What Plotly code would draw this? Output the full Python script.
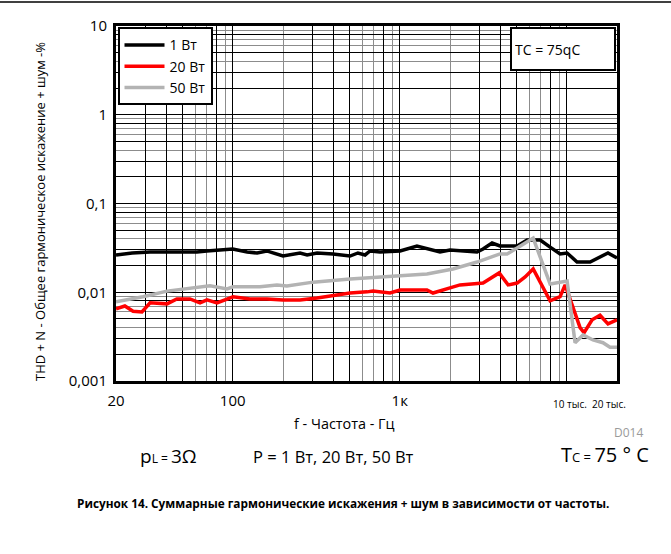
import plotly.graph_objects as go
import numpy as np

# THD+N vs frequency, three output power levels
freq_1w = [20, 25, 32, 40, 61, 70, 84, 100, 122, 140, 160, 200, 253, 279, 320, 398,
           504, 562, 620, 664, 762, 1005, 1268, 1742, 2000, 2904, 3155, 3573, 3984,
           5047, 5796, 6937, 7950, 9124, 10050, 11530, 13800, 15820, 17660, 20000]
thd_1w = [0.0263, 0.0277, 0.0284, 0.0284, 0.0284, 0.0292, 0.0299, 0.0307, 0.0284,
          0.0277, 0.0292, 0.0256, 0.0277, 0.0263, 0.0277, 0.0270, 0.0256, 0.0277,
          0.0263, 0.0292, 0.0284, 0.0292, 0.0332, 0.0284, 0.0299, 0.0284, 0.0307,
          0.0359, 0.0332, 0.0332, 0.0388, 0.0388, 0.0323, 0.0270, 0.0277, 0.0219,
          0.0219, 0.0249, 0.0277, 0.0243]

freq_20w = [20, 22.6, 25.3, 28.6, 32, 40.4, 46.3, 55.4, 63.7, 70.1, 80.5, 100.5, 126.8,
            160.3, 200, 253, 320, 398, 504, 637, 692, 875, 1005, 1456, 1582, 2000, 2296,
            3155, 3938, 4455, 5047, 5635, 6297, 7950, 9124, 9780, 12020, 12700, 14190,
            15820, 17660, 20000]
thd_20w = [0.0065, 0.0070, 0.0061, 0.0060, 0.0076, 0.0074, 0.0084, 0.0084, 0.0076,
           0.0082, 0.0076, 0.0089, 0.0084, 0.0084, 0.0082, 0.0082, 0.0086, 0.0091,
           0.0098, 0.0101, 0.0103, 0.0098, 0.0106, 0.0106, 0.0098, 0.0112, 0.0121,
           0.0127, 0.0165, 0.0121, 0.0127, 0.0149, 0.0183, 0.0080, 0.0089, 0.0121,
           0.0040, 0.0035, 0.0049, 0.0055, 0.0044, 0.0049]

freq_50w = [20, 23.3, 29, 40.4, 50.3, 63.7, 73.1, 92.5, 100.5, 145.6, 184, 211, 303,
            504, 637, 912, 1456, 2085, 2904, 3984, 4393, 5047, 6297, 7950, 10050, 11220,
            12530, 14360, 16490, 18150, 20000]
thd_50w = [0.0078, 0.0082, 0.0089, 0.0103, 0.0109, 0.0115, 0.0118, 0.0109, 0.0115,
           0.0115, 0.0121, 0.0118, 0.0130, 0.0141, 0.0145, 0.0149, 0.0161, 0.0183,
           0.0219, 0.0270, 0.0270, 0.0315, 0.0408, 0.0124, 0.0134, 0.0027, 0.0033,
           0.0029, 0.0027, 0.0024, 0.0024]

series_names = ["1 Вт", "20 Вт", "50 Вт"]
series_colors = ["#000000", "#ff0000", "#b3b3b3"]

x_tickvals = [20, 100, 1000]
x_ticktext = ["20", "100", "1к"]
y_tickvals = [0.001, 0.01, 0.1, 1, 10]
y_ticktext = ["0,001", "0,01", "0,1", "1", "10"]

FONT = "Open Sans"
W, H = 671, 554
ML, MR, MT, MB = 116, 54, 26, 173
PW, PH = W - ML - MR, H - MT - MB


def px(x):
    return (x - ML) / PW


def py(y):
    return (H - MB - y) / PH


fig = go.Figure()
for f, v, name, col in zip([freq_1w, freq_20w, freq_50w],
                           [thd_1w, thd_20w, thd_50w],
                           series_names, series_colors):
    fig.add_trace(go.Scatter(x=f, y=v, mode="lines", name=name, legendgroup=name,
                             line=dict(color=col, width=3.5)))

# grid: gray minor lines on the primary axes, a black subset on overlay axes
dec_x = [10, 100, 1000, 10000]
dec_y = [0.001, 0.01, 0.1, 1]
black_x = [d * m for d in dec_x for m in (3, 4, 5, 8, 10) if 20 <= d * m <= 20000]
black_y = [d * m for d in dec_y for m in (2, 3, 5, 8, 10) if d * m <= 10]

fig.update_layout(
    width=W, height=H,
    margin=dict(l=ML, r=MR, t=MT, b=MB),
    paper_bgcolor="white", plot_bgcolor="white",
    font=dict(family=FONT, color="black"),
    showlegend=True,
    legend=dict(x=0.003, y=0.996, xanchor="left", yanchor="top",
                bgcolor="white", bordercolor="black", borderwidth=2,
                font=dict(size=14, family=FONT), tracegroupgap=0,
                itemwidth=40),
    xaxis=dict(type="log", range=[np.log10(20), np.log10(20000)],
               tickvals=x_tickvals, ticktext=x_ticktext,
               tickfont=dict(size=15), ticks="", ticklabelstandoff=4,
               showline=True, linecolor="black", linewidth=3, mirror=True,
               showgrid=True, gridcolor="#8c8c8c", gridwidth=1,
               minor=dict(showgrid=True, gridcolor="#8c8c8c", gridwidth=1,
                          dtick="D1", ticks=""),
               zeroline=False),
    yaxis=dict(type="log", range=[-3, 1],
               tickvals=y_tickvals, ticktext=y_ticktext,
               tickfont=dict(size=15), ticks="", ticklabelstandoff=3,
               showline=True, linecolor="black", linewidth=3, mirror=True,
               showgrid=True, gridcolor="#8c8c8c", gridwidth=1,
               minor=dict(showgrid=True, gridcolor="#8c8c8c", gridwidth=1,
                          dtick="D1", ticks=""),
               zeroline=False),
    xaxis2=dict(type="log", range=[np.log10(20), np.log10(20000)], overlaying="x",
                tickvals=black_x, showticklabels=False, ticks="",
                showgrid=True, gridcolor="#000000", gridwidth=1, zeroline=False),
    yaxis2=dict(type="log", range=[-3, 1], overlaying="y",
                tickvals=black_y, showticklabels=False, ticks="",
                showgrid=True, gridcolor="#000000", gridwidth=1, zeroline=False),
)
# invisible trace so the overlay axes are drawn
fig.add_trace(go.Scatter(x=[20], y=[0.001], xaxis="x2", yaxis="y2", mode="markers",
                         marker=dict(opacity=0), showlegend=False, hoverinfo="skip"))


def label(x, y, text, size, xanchor="center", **kw):
    return dict(x=px(x), y=py(y), xref="paper", yref="paper", showarrow=False,
                xanchor=xanchor, yanchor="middle", text=text,
                font=dict(size=size, color=kw.pop("color", "black")), **kw)


ann = [
    label(40, 212, "THD + N - Общее гармоническое искажение + шум -%", 13, textangle=-90),
    label(344, 423, "f - Частота - Гц", 14.4),
    label(570, 404, "10 тыс.", 10),
    label(609, 404, "20 тыс.", 10),
    label(628, 432, "D014", 12, color="#9a9a9a"),
    label(138, 456, "p<span style='font-size:12px'>L = </span>3Ω", 19, xanchor="left"),
    label(251, 456, "P = 1 Вт, 20 Вт, 50 Вт", 16.5, xanchor="left"),
    label(559, 454, "T<span style='font-size:13px'>C = </span>75 ° C", 20, xanchor="left"),
    label(343, 503, "<b>Рисунок 14. Суммарные гармонические искажения + шум в зависимости от частоты.</b>", 11.8),
    dict(x=px(616), y=py(27), xref="paper", yref="paper", showarrow=False,
         xanchor="right", yanchor="top", text="TC = 75qC", align="left",
         width=96, height=34, borderpad=3, bordercolor="black", borderwidth=2,
         bgcolor="white", font=dict(size=14)),
]
fig.update_layout(annotations=ann)

# page rule along the top edge
fig.add_shape(type="line", xref="paper", yref="paper", x0=px(0), x1=px(W),
              y0=py(2), y1=py(2), line=dict(color="black", width=1.5))

fig.write_html("out.html")
